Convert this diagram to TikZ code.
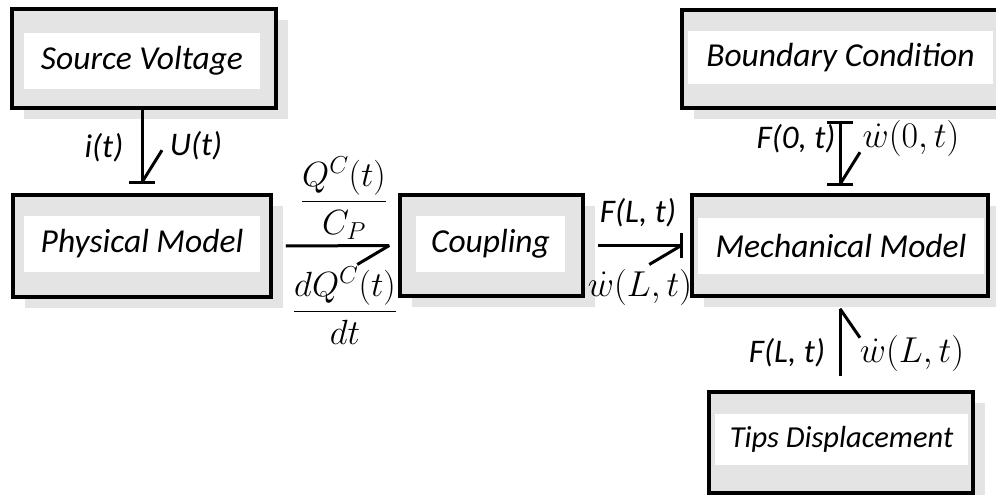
\RequirePackage{fix-cm}
\documentclass[tikz,border=0pt]{standalone}
\usepackage[no-math]{fontspec}
\setmainfont{Carlito}
\usetikzlibrary{shadows,calc}
\definecolor{boxgray}{RGB}{228,228,228}
\begin{document}
\begin{tikzpicture}[x=1pt,y=-1pt,
  blk/.style={draw=black, line width=3.5pt, fill=boxgray, inner sep=0pt,
    drop shadow={shadow xshift=12pt, shadow yshift=-11pt, fill=boxgray, opacity=1}},
  band/.style={fill=white, inner sep=0pt, minimum height=56pt,
    font=\fontsize{33.5}{38}\selectfont\itshape},
  conn/.style={line width=3pt},
  lbl/.style={inner sep=0pt, font=\fontsize{33}{38}\selectfont\itshape},
  mlbl/.style={inner sep=0pt, font=\fontsize{36}{40}\selectfont},
  flbl/.style={inner sep=0pt, anchor=base, font=\fontsize{35}{40}\selectfont}]
\useasboundingbox[fill=white] (0,0) rectangle (996,495);

% boxes
\node[blk, minimum width=264pt, minimum height=99pt] (sv) at (144,58.5) {};
\node[band, minimum width=236pt] (svt) at (142,61) {Source Voltage};

\node[blk, minimum width=258pt, minimum height=102pt] (pm) at (142,246) {};
\node[band, minimum width=236pt] (pmt) at (142,244) {Physical Model};

\node[blk, minimum width=183pt, minimum height=101pt] (cp) at (491.5,245.5) {};
\node[band, minimum width=149pt] (cpt) at (490.5,244) {Coupling};

\node[blk, minimum width=296pt, minimum height=101pt] (mm) at (840,245.5) {};
\node[band, minimum width=286pt] (mmt) at (841,245.5) {Mechanical Model};

\node[blk, minimum width=330pt, minimum height=98pt] (bc) at (847,59) {};
\node[band, minimum width=305pt, minimum height=53pt] (bct) at (840.5,57.5) {Boundary Condition};

\node[blk, minimum width=264pt, minimum height=101pt] (td) at (841,442.5) {};
\node[band, minimum width=253pt, minimum height=51pt, font=\fontsize{30.5}{35}\selectfont\itshape] (tdt) at (841.5,439.5) {Tips Displacement};

% A: Source Voltage -> Physical Model
\coordinate (aT) at ([yshift=11pt]pm.north);
\draw[conn] (aT |- sv.south) -- (aT);
\draw[conn] ([xshift=-13pt]aT) -- ([xshift=13pt]aT);
\draw[conn] (aT) -- ++(20,-32);

% B: Physical Model -> Coupling
\coordinate (bS) at ([xshift=13pt]pm.east);
\coordinate (bT) at ([xshift=-9pt]cp.west);
\draw[conn] (bS) -- (bT);
\draw[conn] (bT) -- ++(-32,19);

% C: Coupling -> Mechanical Model
\coordinate (cS) at ([xshift=13pt]cp.east);
\coordinate (cT) at ([xshift=-9pt]mm.west);
\draw[conn] (cS) -- (cT);
\draw[conn] ([yshift=12.5pt]cT) -- ([yshift=-12.5pt]cT);
\draw[conn] (cT) -- ++(-32,19);

% D: Boundary Condition -> Mechanical Model
\coordinate (dS) at ($(mm.north |- bc.south)+(0,13)$);
\coordinate (dT) at ([yshift=9pt]mm.north);
\draw[conn] (dS) -- (dT);
\draw[conn] ([xshift=-13pt]dS) -- ([xshift=13pt]dS);
\draw[conn] ([xshift=-13pt]dT) -- ([xshift=13pt]dT);
\draw[conn] (dT) -- ++(20,-32);

% E: Tips Displacement -> Mechanical Model
\coordinate (eT) at ([yshift=-11pt]mm.south);
\coordinate (eS) at ($(eT |- td.north)+(0,-14)$);
\draw[conn] (eS) -- (eT);
\draw[conn] (eT) -- ++(20,29);

% labels
\node[lbl] (li) at (104,148) {i(t)};
\node[lbl] (lu) at (196,146) {U(t)};
\node[flbl] (lq1) at (344,210) {$\displaystyle\frac{Q^C(t)}{C_P}$};
\node[flbl] (lq2) at (345,320) {$\displaystyle\frac{dQ^C(t)}{dt}$};
\node[lbl] (lf1) at (638,213) {F(L, t)};
\node[mlbl] (lw1) at (640,287) {$\dot{w}(L,t)$};
\node[lbl] (lf0) at (796,139) {F(0, t)};
\node[mlbl] (lw0) at (911,139) {$\dot{w}(0,t)$};
\node[lbl] (lf2) at (787,353) {F(L, t)};
\node[mlbl] (lw2) at (912,353) {$\dot{w}(L,t)$};
\end{tikzpicture}
\end{document}
